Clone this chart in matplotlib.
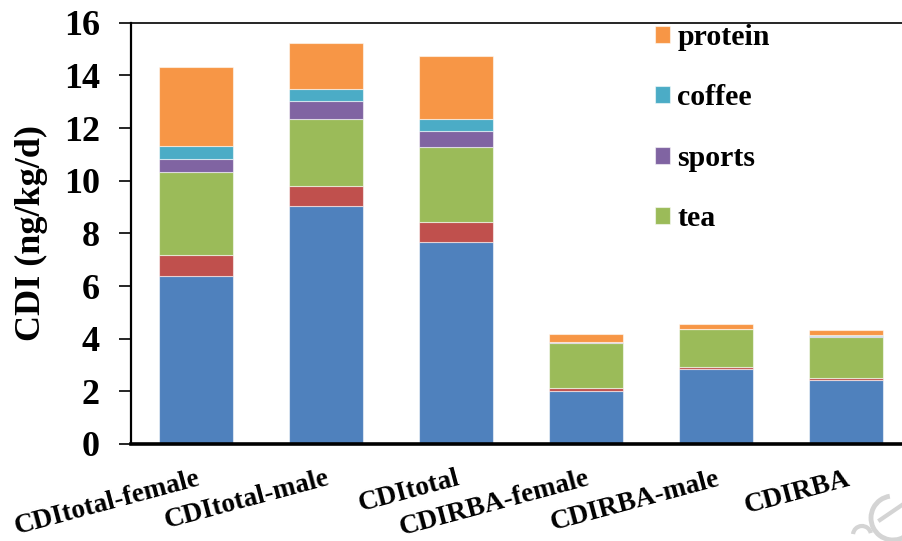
import matplotlib
matplotlib.use("Agg")
import matplotlib.pyplot as plt
from matplotlib.patches import Arc
import numpy as np

# Daily intake estimates (ng/kg/d) by exposure source
categories = ["CDItotal-female", "CDItotal-male", "CDItotal",
              "CDIRBA-female", "CDIRBA-male", "CDIRBA"]
source_a = [6.38, 9.05, 7.67, 2.03, 2.86, 2.44]
source_b = [0.81, 0.73, 0.76, 0.09, 0.08, 0.07]
tea = [3.14, 2.57, 2.86, 1.73, 1.42, 1.56]
sports = [0.50, 0.69, 0.60, 0.02, 0.01, 0.05]
coffee = [0.49, 0.43, 0.47, 0.02, 0.01, 0.01]
protein = [2.98, 1.76, 2.39, 0.28, 0.18, 0.20]

yticks = [0, 2, 4, 6, 8, 10, 12, 14, 16]

layers = [
    (source_a, "#4F81BD", "_a"),
    (source_b, "#C0504D", "_b"),
    (tea, "#9BBB59", "tea"),
    (sports, "#8064A2", "sports"),
    (coffee, "#4BACC6", "coffee"),
    (protein, "#F79646", "protein"),
]

W, H = 902, 541
fig = plt.figure(figsize=(W / 100, H / 100), dpi=100)
ax = fig.add_axes([131 / W, 1 - 444 / H, (911 - 131) / W, (444 - 22.7) / H])

serif = ["Liberation Serif", "DejaVu Serif"]
x = np.arange(len(categories))
bottom = np.zeros(len(categories))
handles = {}
for vals, color, name in layers:
    vals = np.asarray(vals)
    bars = ax.bar(x, vals, width=0.57, bottom=bottom, color=color,
                  edgecolor=(1, 1, 1, 0.55), linewidth=0.8, label=name, zorder=2)
    handles[name] = bars
    bottom += vals

ax.set_xlim(-0.5, 5.5)
ax.set_ylim(0, 16)
ax.set_yticks(yticks)
ax.set_yticklabels([str(t) for t in yticks], fontfamily=serif,
                   fontweight="bold", fontsize=26)
ax.set_xticks(x)
ax.set_xticklabels(categories, fontfamily=serif, fontweight="bold",
                   fontsize=19.8, rotation=15, ha="right", va="top",
                   rotation_mode="anchor")
ax.tick_params(axis="y", direction="out", length=8.5, width=1.2, pad=14)
ax.tick_params(axis="x", length=0, pad=16)

ax.set_ylabel("CDI (ng/kg/d)", fontfamily=serif, fontweight="bold", fontsize=26)
ax.yaxis.set_label_coords(-0.106, 0.5)

ax.spines["left"].set_linewidth(1.6)
ax.spines["bottom"].set_linewidth(2.6)
ax.spines["top"].set_linewidth(1.2)
ax.spines["right"].set_visible(False)

order = ["protein", "coffee", "sports", "tea"]
leg = ax.legend([handles[n] for n in order], order, loc="upper left",
                bbox_to_anchor=(655 / W, 1 - 24 / H), bbox_transform=fig.transFigure,
                frameon=False, handlelength=0.5, handleheight=0.5,
                handletextpad=0.25, labelspacing=1.12, borderpad=0, borderaxespad=0,
                prop={"family": serif, "weight": "bold", "size": 21.5})

# faint corner emblem
def fx(px):
    return px / W

def fy(py):
    return 1 - py / H

grey = "#d4d4d4"
fig.add_artist(Arc((fx(893), fy(518)), 44 / W, 44 / H, theta1=95, theta2=300,
                   color=grey, lw=3.5, transform=fig.transFigure))
fig.add_artist(plt.Line2D([fx(880), fx(902)], [fy(520), fy(505)], color=grey,
                          lw=3, transform=fig.transFigure))
fig.add_artist(Arc((fx(862), fy(535)), 18 / W, 18 / H, theta1=20, theta2=170,
                   color=grey, lw=3, transform=fig.transFigure))

fig.savefig("out.png", dpi=100)
